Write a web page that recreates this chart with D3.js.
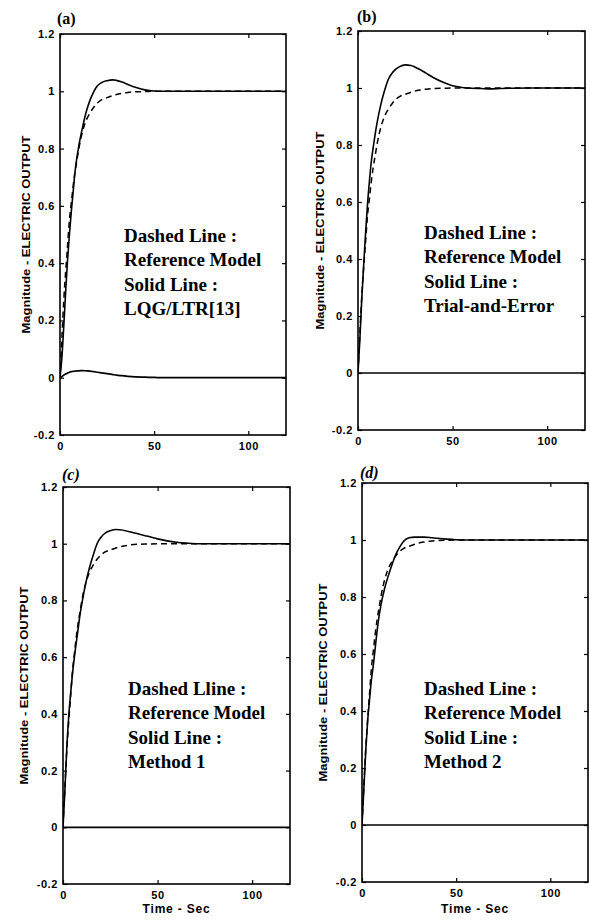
<!DOCTYPE html>
<html>
<head>
<meta charset="utf-8">
<script src="https://cdn.jsdelivr.net/npm/d3@7"></script>
<style>
  html, body { margin: 0; padding: 0; background: #fff; }
  svg { display: block; }
</style>
</head>
<body>
<svg id="chart" width="590" height="920"></svg>
<script>
// ---- data ----
const time = [0,1,2,3,4,5,6,7,8,9,10,12,14,16,18,20,22,25,28,30,33,36,40,45,50,55,60,65,70,75,80,90,100,110,120];

// dashed reference model (same in all panels)
const refModel = [0,0.14,0.27,0.37,0.46,0.55,0.61,0.67,0.72,0.76,0.80,0.86,0.90,0.925,0.945,0.96,0.97,0.978,0.985,0.989,0.993,0.996,0.998,0.999,1,1,1,1,1,1,1,1,1,1,1];

// solid responses
const solidA = [0,0.07,0.18,0.30,0.41,0.50,0.58,0.65,0.72,0.77,0.81,0.875,0.93,0.97,1.0,1.02,1.03,1.037,1.04,1.038,1.032,1.024,1.014,1.005,1.001,1.0,1,1,1,1,1,1,1,1,1];
const solidB = [0,0.12,0.26,0.38,0.49,0.59,0.67,0.74,0.79,0.835,0.875,0.94,0.99,1.03,1.052,1.066,1.075,1.081,1.079,1.074,1.064,1.052,1.036,1.02,1.008,1.002,0.999,0.998,0.997,0.998,0.999,1,1,1,1];
const solidC = [0,0.13,0.28,0.39,0.47,0.54,0.60,0.65,0.70,0.75,0.79,0.86,0.915,0.96,1.0,1.022,1.036,1.046,1.05,1.049,1.046,1.041,1.034,1.026,1.017,1.01,1.005,1.002,1.0,1,1,1,1,1,1];
const solidD = [0,0.13,0.26,0.365,0.44,0.51,0.56,0.62,0.68,0.73,0.77,0.83,0.875,0.915,0.95,0.975,0.995,1.008,1.01,1.01,1.01,1.009,1.006,1.003,1.001,1,1,1,1,1,1,1,1,1,1];

// second (coupled) output
const coupledA = [0,0.004,0.009,0.013,0.016,0.019,0.021,0.022,0.023,0.024,0.024,0.025,0.024,0.023,0.021,0.019,0.017,0.014,0.011,0.009,0.007,0.005,0.003,0.002,0.001,0,0,0,0,0,0,0,0,0,0];
const zeroOut = [0,0,0,0,0,0,0,0,0,0,0,0,0,0,0,0,0,0,0,0,0,0,0,0,0,0,0,0,0,0,0,0,0,0,0];

const yTicks = [-0.2,0,0.2,0.4,0.6,0.8,1,1.2];
const xTicks = [0,50,100];
const panelLabels = ["(a)","(b)","(c)","(d)"];
const yAxisTitle = "Magnitude - ELECTRIC OUTPUT";
const xAxisTitle = "Time - Sec";
const annotations = [
  ["Dashed Line :", "Reference Model", "Solid Line :", "LQG/LTR[13]"],
  ["Dashed Line :", "Reference Model", "Solid Line :", "Trial-and-Error"],
  ["Dashed Lline :", "Reference Model", "Solid Line :", "Method 1"],
  ["Dashed Line :", "Reference Model", "Solid Line :", "Method 2"]
];
const solidSeries = [solidA, solidB, solidC, solidD];
const secondSeries = [coupledA, zeroOut, zeroOut, zeroOut];

// ---- layout ----
const panels = [
  {l:60,  r:286, t:34,  b:435, ylab:30,  lab:{x:57, y:24, italic:false}, ann:{x:124, y:242}, xtitle:false},
  {l:358, r:585, t:31,  b:430, ylab:324, lab:{x:357,y:22, italic:false}, ann:{x:424, y:239}, xtitle:false},
  {l:63,  r:290, t:487, b:884, ylab:28,  lab:{x:62, y:480, italic:true}, ann:{x:128, y:695}, xtitle:true},
  {l:362, r:588, t:483, b:882, ylab:327, lab:{x:360,y:478, italic:true}, ann:{x:424, y:695}, xtitle:true}
];

const svg = d3.select("#chart");
svg.append("rect").attr("width",590).attr("height",920).attr("fill","#fff");

panels.forEach((p, i) => {
  const x = d3.scaleLinear().domain([0,120]).range([p.l, p.r]);
  const y = d3.scaleLinear().domain([-0.2,1.2]).range([p.b, p.t]);
  const g = svg.append("g");

  const tickFont = g => g.selectAll("text")
      .attr("font-family","'Liberation Sans', Arial, sans-serif")
      .attr("font-weight","bold").attr("font-size",11).attr("fill","#000")
      .attr("letter-spacing",0.6);

  // left axis with labels, inward ticks
  g.append("g").attr("transform",`translate(${p.l},0)`)
    .call(d3.axisLeft(y).tickValues(yTicks).tickFormat(d => String(d))
      .tickSizeInner(-4).tickSizeOuter(0).tickPadding(5))
    .call(a => a.select(".domain").remove())
    .call(a => a.selectAll("line").attr("stroke","#000").attr("stroke-width",1.2))
    .call(tickFont);
  // right axis ticks
  g.append("g").attr("transform",`translate(${p.r},0)`)
    .call(d3.axisRight(y).tickValues(yTicks).tickFormat("").tickSizeInner(-4).tickSizeOuter(0))
    .call(a => a.select(".domain").remove())
    .call(a => a.selectAll("line").attr("stroke","#000").attr("stroke-width",1.2));
  // bottom axis with labels
  g.append("g").attr("transform",`translate(0,${p.b})`)
    .call(d3.axisBottom(x).tickValues(xTicks).tickFormat(d => String(d))
      .tickSizeInner(-4).tickSizeOuter(0).tickPadding(7))
    .call(a => a.select(".domain").remove())
    .call(a => a.selectAll("line").attr("stroke","#000").attr("stroke-width",1.2))
    .call(tickFont);
  // top axis ticks
  g.append("g").attr("transform",`translate(0,${p.t})`)
    .call(d3.axisTop(x).tickValues(xTicks).tickFormat("").tickSizeInner(-4).tickSizeOuter(0))
    .call(a => a.select(".domain").remove())
    .call(a => a.selectAll("line").attr("stroke","#000").attr("stroke-width",1.2));

  // frame
  g.append("rect").attr("x",p.l).attr("y",p.t).attr("width",p.r-p.l).attr("height",p.b-p.t)
    .attr("fill","none").attr("stroke","#000").attr("stroke-width",1.6);

  const clipId = "clip"+i;
  g.append("clipPath").attr("id",clipId).append("rect")
    .attr("x",p.l).attr("y",p.t).attr("width",p.r-p.l).attr("height",p.b-p.t);

  const line = vals => d3.line()
      .x((d,k) => x(time[k])).y(d => y(d))
      .curve(d3.curveMonotoneX)(vals);

  const curves = g.append("g").attr("clip-path",`url(#${clipId})`);
  curves.append("path").attr("d", line(secondSeries[i]))
    .attr("fill","none").attr("stroke","#000").attr("stroke-width",1.7);
  curves.append("path").attr("d", line(refModel))
    .attr("fill","none").attr("stroke","#000").attr("stroke-width",1.5)
    .attr("stroke-dasharray","6,4");
  curves.append("path").attr("d", line(solidSeries[i]))
    .attr("fill","none").attr("stroke","#000").attr("stroke-width",1.6);

  // y-axis title
  g.append("text")
    .attr("transform",`translate(${p.ylab},${(p.t+p.b)/2}) rotate(-90)`)
    .attr("text-anchor","middle")
    .attr("font-family","'Liberation Sans', Arial, sans-serif")
    .attr("font-weight","bold").attr("font-size",11)
    .attr("textLength",198).attr("lengthAdjust","spacingAndGlyphs")
    .text(yAxisTitle);

  // x-axis title
  if (p.xtitle) {
    g.append("text").attr("x",(p.l+p.r)/2).attr("y",913)
      .attr("text-anchor","middle")
      .attr("font-family","'Liberation Sans', Arial, sans-serif")
      .attr("font-weight","bold").attr("font-size",12)
      .attr("letter-spacing",0.8)
      .text(xAxisTitle);
  }

  // panel label
  g.append("text").attr("x",p.lab.x).attr("y",p.lab.y)
    .attr("font-family","'Liberation Serif', 'Times New Roman', serif")
    .attr("font-weight","bold").attr("font-size",16)
    .attr("font-style", p.lab.italic ? "italic" : "normal")
    .text(panelLabels[i]);

  // annotation
  annotations[i].forEach((s, k) => {
    g.append("text").attr("x",p.ann.x).attr("y",p.ann.y + k*24.3)
      .attr("font-family","'Liberation Serif', 'Times New Roman', serif")
      .attr("font-weight","bold").attr("font-size",19)
      .text(s);
  });
});
</script>
</body>
</html>
